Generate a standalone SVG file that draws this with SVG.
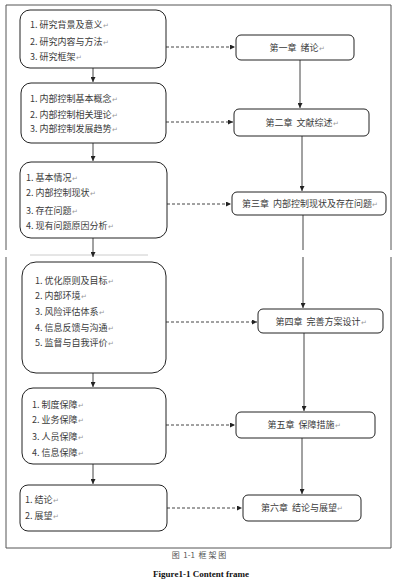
<svg xmlns="http://www.w3.org/2000/svg" width="406" height="583" viewBox="0 0 406 583">
<style>
.frame{fill:none;stroke:#555;stroke-width:1}
.box{fill:#fff;stroke:#222;stroke-width:1}
.t{font-family:"Noto Sans CJK SC","Noto Sans",sans-serif;font-size:9px;fill:#3a3a3a}
.c{text-anchor:middle}
.pm{fill:#999;font-size:7px}
.ln{stroke:#444;stroke-width:1;fill:none}
.ds{stroke:#444;stroke-width:1;fill:none;stroke-dasharray:3,2}
.cap{font-family:"Noto Sans CJK SC",sans-serif;font-size:8px;fill:#555;text-anchor:middle}
.cap2{font-family:"Liberation Serif",serif;font-size:9px;fill:#111;text-anchor:middle;font-weight:bold}
</style>
<defs>
<marker id="ah" viewBox="0 0 6 6" refX="6" refY="3" markerWidth="5" markerHeight="5" orient="auto" markerUnits="userSpaceOnUse">
<path d="M0,0 L6,3 L0,6 z" fill="#222"/>
</marker>
</defs>
<rect width="406" height="583" fill="#fff"/>
<path class="frame" d="M6,250 V5 H391 V250 M6,257 V548 H391 V257"/>
<line x1="30" y1="255" x2="148" y2="255" stroke="#ccc" stroke-width="1"/>

<g id="connectors">
<line class="ln" x1="93" y1="68" x2="93" y2="82" marker-end="url(#ah)"/>
<line class="ln" x1="93" y1="143" x2="93" y2="161" marker-end="url(#ah)"/>
<line class="ln" x1="93" y1="238" x2="93" y2="257" marker-end="url(#ah)"/>
<line class="ln" x1="93" y1="373" x2="93" y2="387" marker-end="url(#ah)"/>
<line class="ln" x1="93" y1="464" x2="93" y2="484" marker-end="url(#ah)"/>
<line class="ln" x1="300" y1="60" x2="300" y2="108" marker-end="url(#ah)"/>
<line class="ln" x1="302" y1="136" x2="302" y2="191" marker-end="url(#ah)"/>
<line class="ln" x1="303" y1="215" x2="303" y2="250"/>
<line class="ln" x1="303" y1="257" x2="303" y2="308" marker-end="url(#ah)"/>
<line class="ln" x1="304" y1="333" x2="304" y2="411" marker-end="url(#ah)"/>
<line class="ln" x1="302" y1="438" x2="302" y2="494" marker-end="url(#ah)"/>
<line class="ds" x1="166" y1="47" x2="235" y2="47" marker-end="url(#ah)"/>
<line class="ds" x1="166" y1="122" x2="233" y2="122" marker-end="url(#ah)"/>
<line class="ds" x1="167" y1="204" x2="231" y2="204" marker-end="url(#ah)"/>
<line class="ds" x1="166" y1="322" x2="257" y2="322" marker-end="url(#ah)"/>
<line class="ds" x1="166" y1="425" x2="235" y2="425" marker-end="url(#ah)"/>
<line class="ds" x1="167" y1="508" x2="242" y2="508" marker-end="url(#ah)"/>
</g>

<g id="L1">
<rect class="box" x="20" y="10" width="146" height="58" rx="10"/>
<text class="t" x="30" y="28">1. 研究背景及意义<tspan class="pm">↵</tspan></text>
<text class="t" x="30" y="45">2. 研究内容与方法<tspan class="pm">↵</tspan></text>
<text class="t" x="30" y="60">3. 研究框架<tspan class="pm">↵</tspan></text>
</g>
<g id="L2">
<rect class="box" x="21" y="83" width="145" height="60" rx="10"/>
<text class="t" x="30" y="102">1. 内部控制基本概念<tspan class="pm">↵</tspan></text>
<text class="t" x="30" y="118">2. 内部控制相关理论<tspan class="pm">↵</tspan></text>
<text class="t" x="30" y="132">3. 内部控制发展趋势<tspan class="pm">↵</tspan></text>
</g>
<g id="L3">
<rect class="box" x="20" y="162" width="147" height="76" rx="11"/>
<text class="t" x="26" y="181">1. 基本情况<tspan class="pm">↵</tspan></text>
<text class="t" x="26" y="196">2. 内部控制现状<tspan class="pm">↵</tspan></text>
<text class="t" x="26" y="214">3. 存在问题<tspan class="pm">↵</tspan></text>
<text class="t" x="26" y="229">4. 现有问题原因分析<tspan class="pm">↵</tspan></text>
</g>
<g id="L4">
<rect class="box" x="22" y="262" width="144" height="111" rx="14"/>
<text class="t" x="35" y="284">1. 优化原则及目标<tspan class="pm">↵</tspan></text>
<text class="t" x="35" y="299">2. 内部环境<tspan class="pm">↵</tspan></text>
<text class="t" x="35" y="315">3. 风险评估体系<tspan class="pm">↵</tspan></text>
<text class="t" x="35" y="331">4. 信息反馈与沟通<tspan class="pm">↵</tspan></text>
<text class="t" x="35" y="346">5. 监督与自我评价<tspan class="pm">↵</tspan></text>
</g>
<g id="L5">
<rect class="box" x="22" y="388" width="144" height="76" rx="11"/>
<text class="t" x="32" y="408">1. 制度保障<tspan class="pm">↵</tspan></text>
<text class="t" x="32" y="423">2. 业务保障<tspan class="pm">↵</tspan></text>
<text class="t" x="32" y="440">3. 人员保障<tspan class="pm">↵</tspan></text>
<text class="t" x="32" y="456">4. 信息保障<tspan class="pm">↵</tspan></text>
</g>
<g id="L6">
<rect class="box" x="20" y="485" width="147" height="46" rx="8"/>
<text class="t" x="25" y="503">1. 结论<tspan class="pm">↵</tspan></text>
<text class="t" x="25" y="519">2. 展望<tspan class="pm">↵</tspan></text>
</g>

<g id="R1">
<rect class="box" x="236" y="35" width="118" height="25" rx="5"/>
<text class="t c" x="297" y="51" xml:space="preserve">第一章  绪论<tspan class="pm">↵</tspan></text>
</g>
<g id="R2">
<rect class="box" x="234" y="109" width="135" height="27" rx="5"/>
<text class="t c" x="302" y="126" xml:space="preserve">第二章  文献综述<tspan class="pm">↵</tspan></text>
</g>
<g id="R3">
<rect class="box" x="232" y="192" width="154" height="23" rx="5"/>
<text class="t c" x="310" y="207" xml:space="preserve">第三章  内部控制现状及存在问题<tspan class="pm">↵</tspan></text>
</g>
<g id="R4">
<rect class="box" x="258" y="309" width="125" height="24" rx="5"/>
<text class="t c" x="321" y="325" xml:space="preserve">第四章  完善方案设计<tspan class="pm">↵</tspan></text>
</g>
<g id="R5">
<rect class="box" x="236" y="412" width="139" height="26" rx="5"/>
<text class="t c" x="304" y="428" xml:space="preserve">第五章  保障措施<tspan class="pm">↵</tspan></text>
</g>
<g id="R6">
<rect class="box" x="243" y="495" width="118" height="26" rx="5"/>
<text class="t c" x="302" y="511" xml:space="preserve">第六章  结论与展望<tspan class="pm">↵</tspan></text>
</g>

<text class="cap" x="199" y="558" xml:space="preserve">图  1-1  框 架 图</text>
<text class="cap2" x="201" y="577">Figure1-1 Content frame</text>
</svg>
